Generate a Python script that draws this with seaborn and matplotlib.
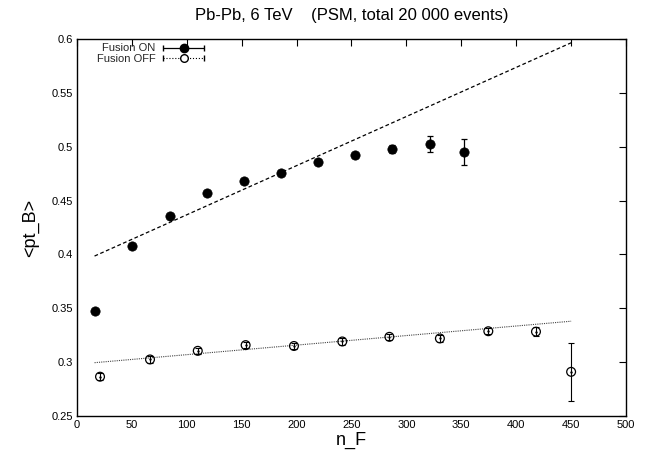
import numpy as np
import pandas as pd
import seaborn as sns
import matplotlib.pyplot as plt
from matplotlib.legend_handler import HandlerErrorbar
from matplotlib.container import ErrorbarContainer

# data
on_x = [16.5, 50.4, 84.4, 118.0, 151.8, 185.5, 219.2, 253.0, 286.9, 321.5, 352.5]
on_y = [0.3475, 0.4077, 0.4355, 0.4572, 0.4682, 0.4760, 0.4860, 0.4920, 0.4980, 0.5025, 0.4950]
on_err = [0.002, 0.002, 0.002, 0.002, 0.002, 0.002, 0.002, 0.002, 0.004, 0.007, 0.012]

off_x = [21.0, 66.5, 110.0, 153.6, 197.6, 241.6, 284.5, 330.5, 374.6, 418.0, 450.0]
off_y = [0.2865, 0.3025, 0.3105, 0.3158, 0.3150, 0.3192, 0.3235, 0.3220, 0.3287, 0.3283, 0.2910]
off_err = [0.003, 0.003, 0.003, 0.003, 0.003, 0.003, 0.003, 0.003, 0.003, 0.004, 0.027]

fit_x = [16.0, 450.0]
on_fit = [0.3985, 0.5965]
off_fit = [0.2995, 0.3380]

on = pd.DataFrame({"n_F": on_x, "pt": on_y, "err": on_err})
off = pd.DataFrame({"n_F": off_x, "pt": off_y, "err": off_err})

sns.set_theme(style="white")
plt.rcParams['font.family'] = ['Liberation Sans', 'DejaVu Sans']
plt.rcParams['xtick.direction'] = 'in'
plt.rcParams['ytick.direction'] = 'in'

fig = plt.figure(figsize=(6.49, 4.58), dpi=100)
ax = fig.add_axes([0.1186, 0.0917, 0.8460, 0.8231])

# fitted lines
sns.lineplot(x=fit_x, y=on_fit, ax=ax, color='black', lw=0.9, linestyle=(0, (3, 2)))
sns.lineplot(x=fit_x, y=off_fit, ax=ax, color='#444444', lw=0.8, linestyle=(0, (1, 1)))

# error bars
ax.errorbar(on["n_F"], on["pt"], yerr=on["err"], fmt='none', ecolor='black',
            elinewidth=0.9, capsize=2.5, capthick=0.9)
ax.errorbar(off["n_F"], off["pt"], yerr=off["err"], fmt='none', ecolor='black',
            elinewidth=0.8, capsize=2.5, capthick=0.8, linestyle=':')

# markers
sns.scatterplot(data=on, x="n_F", y="pt", ax=ax, color='black', s=45,
                edgecolor='black', linewidth=0.5, zorder=5)
sns.scatterplot(data=off, x="n_F", y="pt", ax=ax, marker='o', s=40,
                facecolor='none', edgecolor='black', linewidth=0.9, zorder=5)
sns.scatterplot(data=off, x="n_F", y="pt", ax=ax, color='black', s=3,
                linewidth=0, zorder=6)

# legend proxies (horizontal error bars like gnuplot)
h_on = ax.errorbar([np.nan], [np.nan], xerr=[1], fmt='o', color='black', ms=6,
                   elinewidth=0.9, capsize=2.5)
h_off = ax.errorbar([np.nan], [np.nan], xerr=[1], fmt='o', color='black', ms=5.5,
                    mfc='white', elinewidth=0.8, capsize=2.5)
for ln in h_off[2]:
    ln.set_linestyle(':')
leg = ax.legend([h_on, h_off], ["Fusion ON", "Fusion OFF"], loc='upper right',
                bbox_to_anchor=(0.242, 1.0), frameon=False, fontsize=8,
                markerfirst=False, handlelength=3.9, handletextpad=0.6,
                labelspacing=0.05, borderaxespad=0.0, alignment='right',
                handler_map={ErrorbarContainer: HandlerErrorbar(xerr_size=1.85)})

ax.set_xlim(0, 500)
ax.set_ylim(0.25, 0.6)
ax.set_xticks(np.arange(0, 501, 50))
ax.set_yticks([0.25, 0.3, 0.35, 0.4, 0.45, 0.5, 0.55, 0.6])
ax.set_yticklabels(["0.25", "0.3", "0.35", "0.4", "0.45", "0.5", "0.55", "0.6"])
ax.tick_params(axis='both', labelsize=8, length=5, width=0.8, color='black',
               top=True, right=True, labelcolor='black', pad=3)
for sp in ax.spines.values():
    sp.set_color('black')
    sp.set_linewidth(1.0)

ax.set_xlabel("n_F", fontsize=13, labelpad=1, color='black')
ax.set_ylabel("<pt_B>", fontsize=13, labelpad=9, color='black')
ax.set_title("Pb-Pb, 6 TeV    (PSM, total 20 000 events)", fontsize=12,
             pad=14, color='black')

fig.savefig("out.png", dpi=100)
